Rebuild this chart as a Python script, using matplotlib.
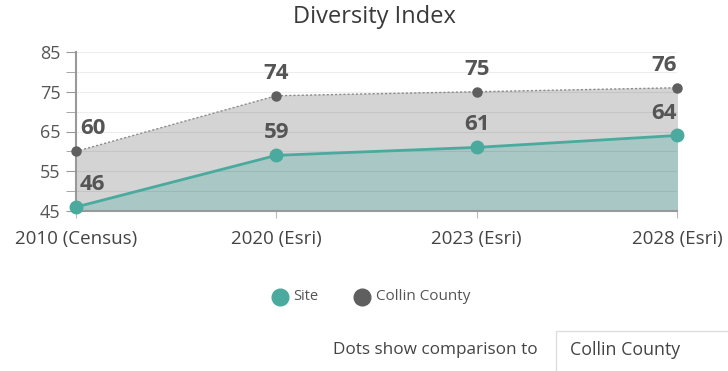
import matplotlib
matplotlib.use("Agg")
import matplotlib.pyplot as plt
from matplotlib.patches import Rectangle
from matplotlib.lines import Line2D
import numpy as np

categories = ["2010 (Census)", "2020 (Esri)", "2023 (Esri)", "2028 (Esri)"]
site = [46, 59, 61, 64]
county = [60, 74, 75, 76]
yticks = [45, 55, 65, 75, 85]

plt.rcParams['font.family'] = ['Open Sans', 'DejaVu Sans']

fig = plt.figure(figsize=(7.28, 3.71), dpi=100)
ax = fig.add_axes([76/728, 160/371, 601/728, 159/371])
x = np.arange(len(categories))

teal = "#4aaa9e"
dark = "#5f5f5f"

ax.fill_between(x, 45, county, color="#d4d4d4", zorder=1)
ax.fill_between(x, 45, site, color="#a9c8c5", zorder=2)
for v in range(45, 86, 5):
    ax.axhline(v, color="#000000", alpha=0.07, lw=0.8, zorder=3)
ax.plot(x, county, color="#8a8a8a", lw=1, ls=(0, (1.5, 1.5)), zorder=4)
ax.plot(x, county, "o", color=dark, ms=6.5, zorder=5, clip_on=False)
ax.plot(x, site, color=teal, lw=2, zorder=6)
ax.plot(x, site, "o", color=teal, ms=9, zorder=7, clip_on=False)

ax.set_xlim(0, 3)
ax.set_ylim(45, 85)
ax.set_yticks(yticks)
ax.set_yticks(range(45, 86, 5), minor=True)
ax.set_xticks(x)
ax.set_xticklabels(categories)
ax.tick_params(axis="y", which="both", length=7, color="#999999", labelsize=13, labelcolor="#555555", pad=4)
ax.tick_params(axis="x", length=5, color="#bbbbbb", labelsize=13.5, labelcolor="#444444", pad=9)
for s in ["top", "right"]:
    ax.spines[s].set_visible(False)
ax.spines["left"].set_color("#999999")
ax.spines["bottom"].set_color("#999999")
ax.spines["left"].set_linewidth(1.5)
ax.spines["bottom"].set_linewidth(1.5)

has = ["left", "center", "center", "right"]
offs = [0.02, 0, 0, 0]
for i in range(4):
    ax.text(x[i] + offs[i], county[i] + 3.0, str(county[i]), ha=has[i], va="bottom",
            fontsize=16, fontweight="bold", color="#555555", zorder=8)
    ax.text(x[i] + offs[i], site[i] + 3.0, str(site[i]), ha=has[i], va="bottom",
            fontsize=16, fontweight="bold", color="#555555", zorder=8)

fig.text(374/728, 1 - 17/371, "Diversity Index", ha="center", va="center", fontsize=17, color="#3a3a3a")

# legend
fig.lines.append(Line2D([280/728], [1 - 297/371], marker="o", ms=12, color=teal,
                        transform=fig.transFigure, figure=fig))
fig.text(293/728, 1 - 297/371, "Site", ha="left", va="center", fontsize=10.5, color="#555555")
fig.lines.append(Line2D([362/728], [1 - 297/371], marker="o", ms=12, color=dark,
                        transform=fig.transFigure, figure=fig))
fig.text(376/728, 1 - 297/371, "Collin County", ha="left", va="center", fontsize=11, color="#555555")

fig.text(538/728, 1 - 350/371, "Dots show comparison to", ha="right", va="center", fontsize=12.3, color="#444444")
fig.patches.append(Rectangle((556/728, -0.01), 180/728, 44/371, transform=fig.transFigure,
                             facecolor="white", edgecolor="#dddddd", lw=1, figure=fig))
fig.text(570/728, 1 - 350/371, "Collin County", ha="left", va="center", fontsize=12.8, color="#444444")

fig.savefig("out.png", dpi=100)
